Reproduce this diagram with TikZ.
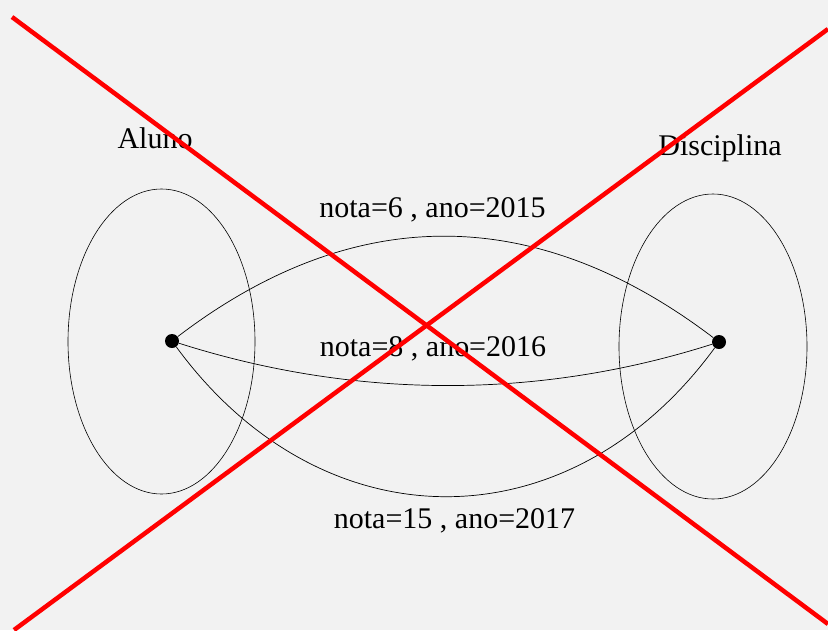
\documentclass[tikz,border=0pt]{standalone}
\usepackage{fontspec}
\setmainfont{Liberation Serif}
\usetikzlibrary{shapes.geometric}
\definecolor{bgGray}{HTML}{F2F2F2}
\begin{document}
\begin{tikzpicture}
[x=1pt,y=-1pt,
  lineDecorate/.style={-,line width=0.7pt},%
  nodeDecorate/.style={shape=circle,fill,inner sep=0pt,minimum size=14pt},%
  setDecorate/.style={shape=ellipse,draw,line width=0.6pt,inner sep=0pt},%
  textDecorate/.style={anchor=base,inner sep=0pt,font=\fontsize{30}{36}\selectfont},%
  crossDecorate/.style={draw=red,line width=4.5pt}]
%% background
\fill[bgGray] (0,0) rectangle (828,630);
\useasboundingbox (0,0) rectangle (828,630);
%% sets
\node (setAluno) at (161.5,341.5) [setDecorate,minimum width=187pt,minimum height=305pt] {};
\node (setDisciplina) at (713,346.5) [setDecorate,minimum width=188pt,minimum height=305pt] {};
%% set names
\foreach \nodename/\x/\y in {Aluno/155/148, Disciplina/720/155}
{
  \node (title\nodename) at (\x,\y) [textDecorate] {\nodename};
}
%% nodes or vertices
\foreach \nodename/\x/\y in {aluno/172/341, disciplina/719/342}
{
  \node (\nodename) at (\x,\y) [nodeDecorate] {};
}
%% edges or lines
\draw[lineDecorate] (aluno) .. controls +(182,-139) and +(-183,-139) .. (disciplina);
\draw[lineDecorate] (aluno) .. controls +(182,58) and +(-182,58) .. (disciplina);
\draw[lineDecorate] (aluno) .. controls +(150,205) and +(-150,205) .. (disciplina);
%% edge labels
\node (labelA) at (432.5,217) [textDecorate] {nota=6 , ano=2015};
\node (labelB) at (433,356) [textDecorate] {nota=8 , ano=2016};
\node (labelC) at (454.5,528.5) [textDecorate] {nota=15 , ano=2017};
%% cross
\draw[crossDecorate] (12,17) -- (828,624);
\draw[crossDecorate] (14,630) -- (828,29);
\end{tikzpicture}
\end{document}
